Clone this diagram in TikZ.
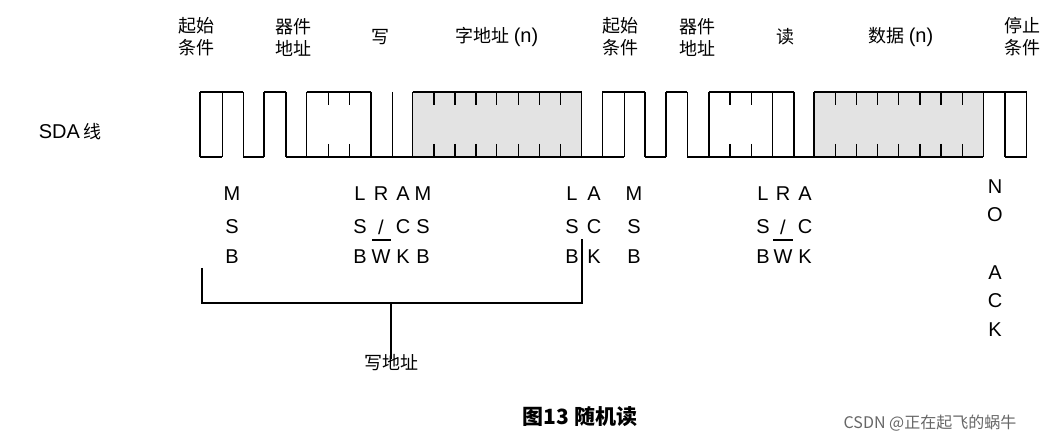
\documentclass[tikz,border=0pt]{standalone}
\usepackage{fontspec}
\setmainfont{Liberation Sans}
\newfontfamily\cjk{Noto Sans CJK SC}
\usetikzlibrary{positioning}
\begin{document}
\begin{tikzpicture}[x=1pt,y=-1pt,line width=1.5pt,
  lbl/.style={font=\cjk\fontsize{18}{22}\selectfont,align=center,inner sep=0pt},
  bit/.style={font=\fontsize{20}{21}\selectfont,inner sep=0pt},
  shade/.style={fill=gray!22,draw=none}]
  \useasboundingbox (0,0) rectangle (1053,443);
  % shaded bytes
  \fill[shade] (412.7,92) rectangle (581.7,157);
  \fill[shade] (814,92) rectangle (983.3,157);
  % waveform: low and high levels, edges, ticks
  \foreach \a/\b in {200/222.3,243.3/264,286/624.3,645/666,687.3/983.3,1005/1026.7}
    \draw (\a,157) -- (\b,157);
  \foreach \a/\b in {200/243.3,264/286,306.7/371,412.7/581.7,602.3/645,666/687.3,709/794,814/1026.7}
    \draw (\a,92) -- (\b,92);
  \foreach \x in {200,222.3,243.3,264,286,306.7,371,392.7,412.7,581.7,602.3,624.3,645,
                  666,687.3,709,772.7,794,814,983.3,1005,1026.7}
    \draw (\x,92) -- (\x,157);
  \foreach \x in {328.3,349.3,434,455,476,496.7,518.3,539.3,560.7,
                  730,751.3,835.7,856.7,877.3,898.3,920,941,962.3}
    \draw (\x,92) -- (\x,105) (\x,144) -- (\x,157);
  % top labels
  \node[lbl] (start1) at (196,37) {起始\\条件};
  \node[lbl] (dev1) at (293,37) {器件\\地址};
  \node[lbl] (wr) at (380,37) {写};
  \node[lbl] (waddr) at (497,37) {字地址 {\fontspec{Liberation Sans}\fontsize{20}{22}\selectfont(n)}};
  \node[lbl] (start2) at (620,37) {起始\\条件};
  \node[lbl] (dev2) at (697,37) {器件\\地址};
  \node[lbl] (rd) at (785,37) {读};
  \node[lbl] (data) at (901,37) {数据 {\fontspec{Liberation Sans}\fontsize{20}{22}\selectfont(n)}};
  \node[lbl] (stop) at (1022,37) {停止\\条件};
  \node[lbl,anchor=west] (sda) at (38,132) {{\fontspec{Liberation Sans}\fontsize{20}{22}\selectfont SDA} 线};
  % bit labels
  \foreach \x/\a/\b/\c in {232/M/S/B,360/L/S/B,403/A/C/K,423/M/S/B,
      572/L/S/B,594/A/C/K,634/M/S/B,763/L/S/B,805/A/C/K} {
    \node[bit] at (\x,194) {\a};
    \node[bit] at (\x,227) {\b};
    \node[bit] at (\x,257) {\c};
  }
  \foreach \x in {381,783} {
    \node[bit] at (\x,194) {R};
    \node[bit] at (\x,227) {/};
    \node[bit] at (\x,257) {W};
  }
  \draw[line width=1.2pt] (372,240) -- (391,240) (773,240) -- (793,240);
  \foreach \y/\t in {187/N,215/O,273/A,301/C,330/K}
    \node[bit] at (995,\y) {\t};
  % bracket
  \coordinate (bl) at (202,268);
  \coordinate (br) at (582,239);
  \draw (bl) |- (br |- 0,303) -- (br);
  \node[lbl] (waddrlbl) at (391,363) {写地址};
  \draw (391,303) -- ([yshift=-5pt]waddrlbl.north);
  % caption
  \node[lbl,font=\cjk\bfseries\fontsize{21}{24}\selectfont] (cap) at (580,417) {图13 随机读};
  \node[lbl,text=gray!80!black,font=\cjk\fontsize{16}{18}\selectfont] (wm) at (930,423) {CSDN @正在起飞的蜗牛};
\end{tikzpicture}
\end{document}
